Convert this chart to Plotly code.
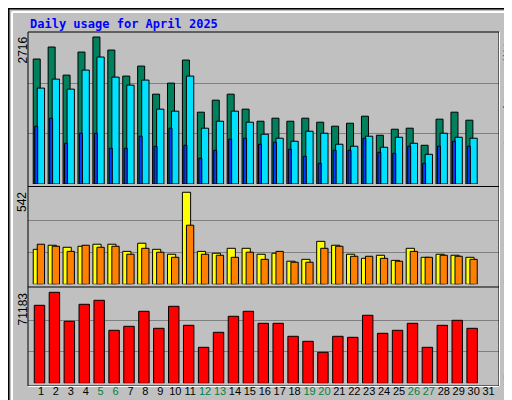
import plotly.graph_objects as go

days = list(range(1, 32))
hits = [2309, 2531, 2012, 2438, 2716, 2475, 1994, 2179, 1660, 1864, 2290, 1327, 1549, 1660, 1383,
        1160, 1216, 1160, 1216, 1142, 1068, 1123, 1253, 901, 1012, 1031, 716, 1198, 1327, 1179, None]
files = [1772, 1938, 1753, 2105, 2346, 1975, 1827, 1920, 1383, 1346, 1994, 1031, 1160, 1346, 1142,
         920, 846, 790, 975, 938, 735, 698, 883, 679, 864, 753, 549, 938, 864, 846, None]
pages = [1068, 1216, 753, 938, 938, 660, 660, 883, 698, 1031, 716, 475, 623, 827, 846,
         735, 772, 642, 512, 383, 623, 623, 846, 586, 568, 698, 383, 698, 790, 698, None]
visits = [206, 230, 218, 224, 236, 236, 194, 242, 206, 177, 542, 194, 183, 212, 212,
          177, 183, 136, 147, 253, 230, 177, 153, 171, 141, 212, 159, 177, 171, 159, None]
sites = [236, 224, 194, 230, 218, 224, 177, 212, 189, 159, 348, 177, 171, 159, 189,
         147, 194, 130, 130, 212, 224, 165, 165, 153, 136, 194, 159, 171, 165, 147, None]
kbytes = [61018, 71183, 48498, 61800, 64925, 41457, 44585, 56326, 43021, 60236, 45366, 28160,
          39893, 52415, 56326, 46930, 46930, 36765, 32850, 24250, 36765, 35983, 53197, 39111,
          41457, 46930, 28160, 45366, 49281, 43021, None]
weekend = [5, 6, 12, 13, 19, 20, 26, 27]

W, H = 512, 400


def py(px):
    return 1 - px / H


def bar(y, color, offset, width, axis):
    return go.Bar(x=days, y=y, marker=dict(color=color, line=dict(color="black", width=1)),
                  offset=offset, width=width, xaxis="x" + axis, yaxis="y" + axis,
                  showlegend=False, hoverinfo="skip")


fig = go.Figure([
    bar(hits, "#00805C", -0.52, 0.47, ""),
    bar(files, "#00E0FF", -0.25, 0.49, ""),
    bar(pages, "#0040FF", -0.42, 0.2, ""),
    bar(visits, "#FFFF00", -0.52, 0.55, "2"),
    bar(sites, "#FF8000", -0.25, 0.49, "2"),
    bar(kbytes, "#FF0000", -0.45, 0.7, "3"),
])

xr = [0.13, 31.7]
xdom = [20 / W, 491 / W]
ticktext = [f'<span style="color:#008040">{d}</span>' if d in weekend else str(d) for d in days]

panels = [  # (top px, bottom px, range max)
    (25, 176, 2790),
    (180.7, 276.3, 563),
    (281, 375.3, 73765),
]
layout = dict(
    width=W, height=H, margin=dict(l=0, r=0, t=0, b=0),
    paper_bgcolor="#C0C0C0", plot_bgcolor="#C0C0C0", barmode="overlay",
    font=dict(family="DejaVu Sans Mono", size=11, color="black"),
)
for i, (top, bot, ymax) in enumerate(panels):
    s = "" if i == 0 else str(i + 1)
    layout["xaxis" + s] = dict(domain=xdom, range=xr, anchor="y" + s, showgrid=False, zeroline=False,
                               showticklabels=(i == 2), tickmode="array", tickvals=days,
                               ticktext=ticktext, ticks="", tickangle=0,
                               tickfont=dict(family="Liberation Sans", size=11))
    layout["yaxis" + s] = dict(domain=[py(bot), py(top)], range=[0, ymax], anchor="x" + s,
                               tickvals=[ymax / 3, 2 * ymax / 3], showticklabels=False,
                               gridcolor="#808080", gridwidth=1, zeroline=False)
fig.update_layout(**layout)

shapes = [
    dict(type="rect", xref="paper", yref="paper", x0=0.001, x1=0.999, y0=0.001, y1=0.999,
         line=dict(color="black", width=2)),
    dict(type="line", xref="paper", yref="paper", x0=4 / W, x1=508 / W, y0=py(4), y1=py(4),
         line=dict(color="white", width=2)),
    dict(type="line", xref="paper", yref="paper", x0=4 / W, x1=4 / W, y0=py(4), y1=py(396),
         line=dict(color="white", width=2)),
    dict(type="line", xref="paper", yref="paper", x0=4 / W, x1=508 / W, y0=py(396), y1=py(396),
         line=dict(color="#808080", width=2)),
    dict(type="line", xref="paper", yref="paper", x0=508 / W, x1=508 / W, y0=py(4), y1=py(396),
         line=dict(color="#808080", width=2)),
    dict(type="rect", xref="paper", yref="paper", x0=20 / W, x1=491 / W, y0=py(378), y1=py(24),
         line=dict(color="black", width=1)),
    dict(type="line", xref="paper", yref="paper", x0=20 / W, x1=491 / W, y0=py(378.5), y1=py(378.5),
         line=dict(color="white", width=1)),
    dict(type="line", xref="paper", yref="paper", x0=491.5 / W, x1=491.5 / W, y0=py(24), y1=py(378),
         line=dict(color="white", width=1)),
]
for sep in (178.5, 279):
    shapes.append(dict(type="line", xref="paper", yref="paper", x0=20 / W, x1=491 / W,
                       y0=py(sep), y1=py(sep), line=dict(color="black", width=1)))

ann = [
    dict(text="<b>Daily usage for April 2025</b>", x=20 / W, y=py(7), xanchor="left", yanchor="top",
         font=dict(color="#0000FF", size=12)),
]
for label, top in (("2716", 27), ("542", 182), ("71183", 283)):
    ann.append(dict(text=label, x=14 / W, y=py(top), textangle=-90, xanchor="center",
                    yanchor="top", font=dict(family="Liberation Sans", size=12)))

# right-hand legend words (text, colour, centre y in px)
legend_words = [
    ("Hits", "#00805C", 40), ("/", "black", 58), ("Files", "#0040FF", 79), ("/", "black", 101),
    ("Pages", "#00E0FF", 122),
    ("Visits", "#FFFF00", 213), ("/", "black", 239), ("Sites", "#FF8000", 261),
    ("KBytes", "#FF0000", 358),
]
for word, color, yc in legend_words:
    ann.append(dict(text=word, x=500 / W, y=py(yc), textangle=-90, xanchor="center",
                    yanchor="middle", font=dict(color=color, size=11)))
for a in ann:
    a.update(xref="paper", yref="paper", showarrow=False)
fig.update_layout(shapes=shapes, annotations=ann)

fig.write_html("out.html")
